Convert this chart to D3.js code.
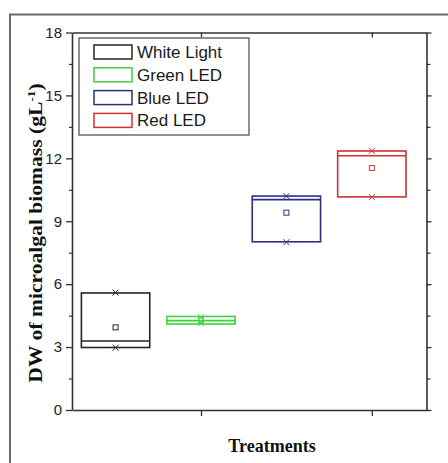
<!DOCTYPE html>
<html>
<head>
<meta charset="utf-8">
<script src="https://cdn.jsdelivr.net/npm/d3@7"></script>
<style>
  html, body { margin: 0; padding: 0; background: #fff; }
  svg { display: block; }
</style>
</head>
<body>
<svg id="chart" width="448" height="463"></svg>
<script>
// ---- data ----
const categories = ["White Light", "Green LED", "Blue LED", "Red LED"];
const positions = [1, 2, 3, 4];
const boxLow   = [2.98, 4.10, 8.02, 10.16];
const boxHigh  = [5.58, 4.46, 10.20, 12.35];
const medians  = [3.29, 4.26, 10.03, 12.12];
const means    = [3.94, 4.28, 9.41, 11.54];
const minVals  = [2.97, 4.15, 8.00, 10.15];
const maxVals  = [5.60, 4.42, 10.20, 12.36];
const colors   = ["#262626", "#3fd13f", "#2e2e86", "#cc3333"];
const yTicks   = [0, 3, 6, 9, 12, 15, 18];
const yMinorTicks = [1.5, 4.5, 7.5, 10.5, 13.5, 16.5];
const xTicks   = [2, 4];

const svg = d3.select("#chart");
const plotL = 72, plotR = 426.5, plotT = 32.5, plotB = 410;

const x = d3.scaleLinear().domain([0.49, 4.64]).range([plotL, plotR]);
const y = d3.scaleLinear().domain([0, 18]).range([plotB, plotT]);
const axisColor = "#333";

// outer frame
svg.append("rect").attr("x", 10).attr("y", 14.5).attr("width", 460).attr("height", 470)
  .attr("fill", "none").attr("stroke", "#6a6a6a").attr("stroke-width", 2);

// axes
function styleAxis(g) {
  g.selectAll("path.domain").attr("stroke", axisColor).attr("stroke-width", 1.6);
  g.selectAll(".tick line").attr("stroke", axisColor).attr("stroke-width", 1.3);
  g.selectAll(".tick text").attr("fill", "#222")
    .style("font-family", "Liberation Sans, Arial, sans-serif").style("font-size", "15px");
}

const gl = svg.append("g").attr("transform", `translate(${plotL},0)`)
  .call(d3.axisLeft(y).tickValues(yTicks).tickSize(6).tickPadding(4).tickSizeOuter(0));
styleAxis(gl);
svg.append("g").attr("transform", `translate(${plotL},0)`)
  .call(d3.axisLeft(y).tickValues(yMinorTicks).tickSize(3).tickFormat("").tickSizeOuter(0))
  .call(g => { g.select("path.domain").remove(); g.selectAll("line").attr("stroke", axisColor).attr("stroke-width", 1.2); });

const gr = svg.append("g").attr("transform", `translate(${plotR},0)`)
  .call(d3.axisLeft(y).tickValues(yTicks).tickSize(-5).tickFormat("").tickSizeOuter(0));
styleAxis(gr);
svg.append("g").attr("transform", `translate(${plotR},0)`)
  .call(d3.axisLeft(y).tickValues(yMinorTicks).tickSize(-4).tickFormat("").tickSizeOuter(0))
  .call(g => { g.select("path.domain").remove(); g.selectAll("line").attr("stroke", axisColor).attr("stroke-width", 1.2); });

const gb = svg.append("g").attr("transform", `translate(0,${plotB})`)
  .call(d3.axisBottom(x).tickValues(xTicks).tickSize(6).tickFormat("").tickSizeOuter(0));
styleAxis(gb);
const gt = svg.append("g").attr("transform", `translate(0,${plotT})`)
  .call(d3.axisTop(x).tickValues(xTicks).tickSize(-5).tickFormat("").tickSizeOuter(0));
styleAxis(gt);

// boxes
const boxW = 0.8;
const data = categories.map((c, i) => ({
  name: c, pos: positions[i], lo: boxLow[i], hi: boxHigh[i], med: medians[i],
  mean: means[i], min: minVals[i], max: maxVals[i], color: colors[i]
}));

const gBoxes = svg.append("g");
data.forEach(d => {
  const g = gBoxes.append("g");
  const x0 = x(d.pos - boxW / 2), x1 = x(d.pos + boxW / 2);
  g.append("rect").attr("x", x0).attr("y", y(d.hi)).attr("width", x1 - x0)
    .attr("height", y(d.lo) - y(d.hi)).attr("fill", "none")
    .attr("stroke", d.color).attr("stroke-width", 1.6);
  g.append("line").attr("x1", x0).attr("x2", x1).attr("y1", y(d.med)).attr("y2", y(d.med))
    .attr("stroke", d.color).attr("stroke-width", 1.6);
  // mean square
  g.append("rect").attr("x", x(d.pos) - 2.5).attr("y", y(d.mean) - 2.5)
    .attr("width", 5).attr("height", 5).attr("fill", "none")
    .attr("stroke", d.color).attr("stroke-width", 1);
  // min / max crosses
  [d.min, d.max].forEach(v => {
    const cx = x(d.pos), cy = y(v), s = 3;
    g.append("path").attr("d", `M${cx - s},${cy - s}L${cx + s},${cy + s}M${cx - s},${cy + s}L${cx + s},${cy - s}`)
      .attr("stroke", d.color).attr("stroke-width", 1).attr("fill", "none");
  });
});

// legend
const lg = svg.append("g");
lg.append("rect").attr("x", 79).attr("y", 38).attr("width", 170).attr("height", 97)
  .attr("fill", "#fff").attr("stroke", "#555").attr("stroke-width", 1.3);
categories.forEach((c, i) => {
  const cy = 52 + i * 22.8;
  lg.append("rect").attr("x", 94).attr("y", cy - 7).attr("width", 38).attr("height", 14)
    .attr("fill", "none").attr("stroke", colors[i]).attr("stroke-width", 1.5);
  lg.append("text").attr("x", 137).attr("y", cy + 6).text(c)
    .style("font-family", "Liberation Sans, Arial, sans-serif").style("font-size", "17px")
    .attr("fill", "#1a1a1a");
});

// axis titles
svg.append("text").attr("x", 272).attr("y", 452).attr("text-anchor", "middle")
  .style("font-family", "Liberation Serif, Times New Roman, serif").style("font-weight", "bold")
  .style("font-size", "18px").attr("fill", "#111").text("Treatments");

const yt = svg.append("text")
  .attr("transform", "translate(42,233) rotate(-90) scale(1.2,1)")
  .attr("text-anchor", "middle")
  .style("font-family", "Liberation Serif, Times New Roman, serif").style("font-weight", "bold")
  .style("font-size", "18px").attr("fill", "#111");
yt.append("tspan").text("DW of microalgal biomass (gL");
yt.append("tspan").attr("dy", -7).style("font-size", "11px").text("-1");
yt.append("tspan").attr("dy", 7).text(")");
</script>
</body>
</html>
